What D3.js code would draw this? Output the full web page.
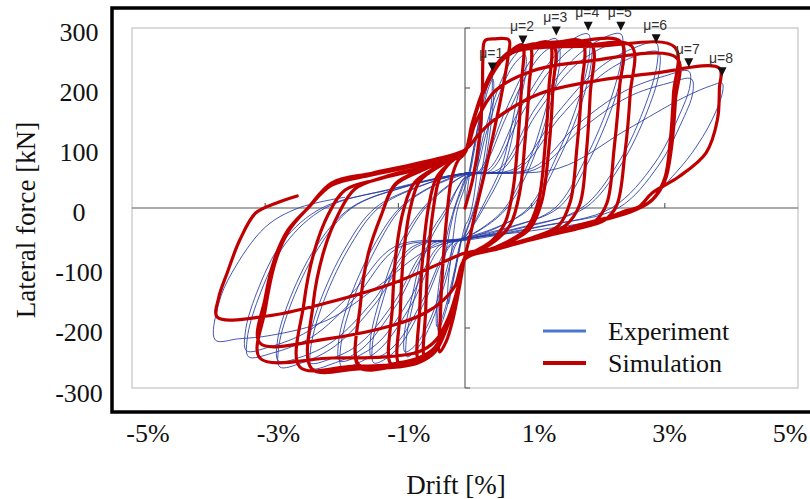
<!DOCTYPE html>
<html>
<head>
<meta charset="utf-8">
<script src="https://cdn.jsdelivr.net/npm/d3@7/dist/d3.min.js"></script>
<style>
  html, body { margin: 0; padding: 0; background: #fff; }
  svg { display: block; }
</style>
</head>
<body>
<svg id="chart" width="810" height="499"></svg>
<script>
// Axis tick labels
const yTickValues = [300, 200, 100, 0, -100, -200, -300];
const xTickValues = [-5, -3, -1, 1, 3, 5];
const xTickLabels = ["-5%", "-3%", "-1%", "1%", "3%", "5%"];

// Ductility markers on the positive envelope [drift %, force kN]
const ductilityLabels = ["μ=1", "μ=2", "μ=3", "μ=4", "μ=5", "μ=6", "μ=7", "μ=8"];
const ductilityDrift = [0.41, 0.87, 1.37, 1.85, 2.34, 2.87, 3.36, 3.86];
const ductilityForce = [235, 280, 295, 303, 303, 282, 242, 227];

// Simulation: load history [drift %, force kN], one array per cycle
const simCycle1 = [[0,0],[0.12,50],[0.22,120],[0.26,190],[0.27,250],[0.3,279],[0.45,282],[0.66,280],
  [0.65,255],[0.55,190],[0.42,120],[0.3,60],[0.17,0],[0.08,-45],[0,-80],
  [-0.08,-130],[-0.18,-185],[-0.28,-222],[-0.38,-240],
  [-0.37,-180],[-0.33,-90],[-0.27,-10],[-0.2,50],[-0.1,80],[0,92]];
const simCycle2 = [[0.1,135],[0.25,185],[0.45,230],[0.65,258],[0.86,272],
  [0.85,210],[0.8,120],[0.72,30],[0.6,-25],[0.4,-55],[0.15,-72],[0,-82],
  [-0.1,-130],[-0.25,-185],[-0.42,-230],[-0.6,-250],
  [-0.59,-170],[-0.55,-80],[-0.48,-5],[-0.38,50],[-0.2,78],[0,92]];
const simCycle3 = [[0.1,138],[0.25,188],[0.45,232],[0.7,260],[0.97,270],
  [0.96,200],[0.9,110],[0.82,25],[0.68,-28],[0.45,-55],[0.2,-72],[0,-85],
  [-0.1,-135],[-0.25,-190],[-0.45,-235],[-0.69,-255],
  [-0.68,-170],[-0.63,-75],[-0.55,0],[-0.43,50],[-0.2,78],[0,94]];
const simCycle4 = [[0.1,138],[0.25,190],[0.45,235],[0.7,262],[1.0,272],[1.27,275],
  [1.26,200],[1.2,100],[1.1,10],[0.92,-35],[0.6,-58],[0.3,-72],[0,-85],
  [-0.1,-135],[-0.25,-192],[-0.45,-238],[-0.7,-255],[-0.98,-262],
  [-0.97,-170],[-0.92,-75],[-0.82,0],[-0.68,45],[-0.35,72],[0,94]];
const simCycle5 = [[0.1,135],[0.25,188],[0.45,232],[0.7,258],[1.0,268],[1.33,270],
  [1.32,200],[1.26,100],[1.15,10],[0.97,-35],[0.65,-58],[0.3,-72],[0,-85],
  [-0.1,-133],[-0.25,-190],[-0.45,-235],[-0.7,-252],[-1.1,-262],
  [-1.09,-165],[-1.03,-70],[-0.92,-2],[-0.76,42],[-0.4,70],[0,94]];
const simCycle6 = [[0.1,138],[0.25,190],[0.45,236],[0.7,262],[1.0,272],[1.4,277],[1.76,277],
  [1.75,200],[1.68,100],[1.58,10],[1.4,-30],[1.0,-50],[0.5,-68],[0,-85],
  [-0.1,-135],[-0.25,-193],[-0.45,-238],[-0.7,-256],[-1.0,-263],[-1.59,-265],
  [-1.57,-160],[-1.45,-75],[-1.25,-10],[-1.05,38],[-0.6,65],[0,95]];
const simCycle7 = [[0.1,135],[0.25,186],[0.45,232],[0.7,258],[1.0,268],[1.5,272],[1.9,272],
  [1.88,190],[1.82,90],[1.72,5],[1.5,-30],[1.0,-52],[0.5,-68],[0,-85],
  [-0.1,-132],[-0.25,-188],[-0.45,-232],[-0.7,-250],[-1.0,-258],[-1.59,-262],
  [-1.57,-160],[-1.45,-75],[-1.25,-10],[-1.05,40],[-0.6,66],[0,95]];
const simCycle8 = [[0.1,138],[0.25,190],[0.45,236],[0.7,263],[1.0,273],[1.6,277],[2.34,277],
  [2.32,200],[2.24,100],[2.13,8],[1.95,-22],[1.6,-36],[1.0,-52],[0.4,-70],[0,-85],
  [-0.1,-135],[-0.25,-193],[-0.45,-240],[-0.7,-258],[-1.0,-265],[-1.6,-268],[-2.3,-268],
  [-2.28,-160],[-2.12,-72],[-1.9,-10],[-1.65,32],[-1.2,52],[-0.6,70],[0,95]];
const simCycle9 = [[0.1,135],[0.25,186],[0.45,232],[0.7,258],[1.0,268],[1.7,270],[2.5,270],
  [2.48,190],[2.4,90],[2.28,5],[2.1,-20],[1.7,-34],[1.0,-52],[0.4,-70],[0,-85],
  [-0.1,-132],[-0.25,-188],[-0.45,-232],[-0.7,-252],[-1.0,-260],[-1.7,-264],[-2.48,-265],
  [-2.42,-160],[-2.27,-75],[-2.05,-10],[-1.8,30],[-1.3,48],[-0.6,68],[0,95]];
const simCycle10 = [[0.1,135],[0.25,186],[0.45,232],[0.7,258],[1.0,266],[2.0,270],[3.15,268],
  [3.13,190],[3.08,110],[3.0,50],[2.82,15],[2.5,-6],[2.0,-20],[1.0,-50],[0.4,-70],[0,-85],
  [-0.1,-130],[-0.25,-183],[-0.45,-222],[-0.7,-240],[-1.2,-248],[-2.0,-250],[-3.08,-250],
  [-3.0,-170],[-2.84,-87],[-2.64,-37],[-2.34,2],[-2.0,38],[-1.4,55],[-0.7,72],[0,97]];
const simCycle11 = [[0.15,140],[0.45,195],[1.0,228],[1.8,244],[3.18,250],
  [3.16,180],[3.1,100],[3.0,45],[2.8,12],[2.45,-8],[2.0,-22],[1.0,-52],[0.4,-70],[0,-85],
  [-0.15,-130],[-0.32,-153],[-0.6,-175],[-1.07,-195],[-2.07,-218],[-3.08,-225],
  [-3.0,-150],[-2.86,-85],[-2.66,-37],[-2.36,0],[-2.0,42],[-1.4,58],[-0.7,75],[0,97]];
const simCycle12 = [[0.2,122],[0.44,147],[1.11,190],[1.86,210],[2.8,224],[3.82,233],
  [3.82,200],[3.79,147],[3.62,92],[3.21,52],[2.81,25],[2.61,2],[2.4,-5],[2.0,-23],[1.0,-53],[0.4,-68],[0,-75],
  [-0.12,-80],[-1.07,-125],[-2.07,-158],[-2.97,-180],[-3.72,-182],
  [-3.7,-150],[-3.57,-108],[-3.38,-53],[-3.14,-8],[-2.84,8],[-2.52,20]];

// Experiment: load history [drift %, force kN], one array per cycle
const expCycle1 = [[0,0],[0.1,80],[0.2,140],[0.25,165],[0.26,150],[0.2,80],[0.12,10],[0.05,-20],[0,-30],
  [-0.1,-80],[-0.2,-135],[-0.25,-160],[-0.26,-140],[-0.2,-70],[-0.12,-5],[-0.05,20],[0,35]];
const expCycle2 = [[0.05,55],[0.15,110],[0.27,175],[0.36,212],[0.4,225],[0.41,200],[0.36,140],[0.25,60],[0.15,5],[0.05,-28],[0,-42],
  [-0.05,-52],[-0.15,-105],[-0.27,-165],[-0.36,-195],[-0.4,-205],[-0.41,-180],[-0.36,-125],[-0.25,-50],[-0.15,0],[-0.05,30],[0,45]];
const expCycle3 = [[0.06,55],[0.16,108],[0.28,170],[0.37,205],[0.42,215],[0.43,190],[0.38,130],[0.27,55],[0.16,3],[0.06,-28],[0,-45],
  [-0.06,-55],[-0.16,-105],[-0.28,-160],[-0.37,-190],[-0.42,-198],[-0.43,-172],[-0.38,-118],[-0.27,-45],[-0.16,0],[-0.06,32],[0,48]];
const expCycle4 = [[0.12,58],[0.3,130],[0.5,200],[0.72,250],[0.87,265],
  [0.88,235],[0.76,170],[0.55,70],[0.25,0],[0.1,-32],[0,-48],
  [-0.12,-58],[-0.3,-125],[-0.5,-190],[-0.72,-235],[-0.87,-248],
  [-0.88,-218],[-0.76,-150],[-0.55,-60],[-0.25,0],[-0.1,35],[0,50]];
const expCycle5 = [[0.14,58],[0.32,125],[0.52,192],[0.74,240],[0.9,255],
  [0.91,225],[0.79,160],[0.58,65],[0.28,0],[0.12,-30],[0,-48],
  [-0.14,-58],[-0.32,-120],[-0.52,-185],[-0.74,-228],[-0.9,-240],
  [-0.91,-210],[-0.79,-145],[-0.58,-55],[-0.28,0],[-0.12,32],[0,52]];
const expCycle6 = [[0.2,60],[0.6,160],[0.95,240],[1.2,275],[1.37,282],
  [1.39,250],[1.25,180],[0.95,75],[0.6,0],[0.3,-30],[0,-50],
  [-0.2,-60],[-0.6,-155],[-0.95,-225],[-1.2,-252],[-1.37,-258],
  [-1.39,-228],[-1.25,-160],[-0.95,-65],[-0.6,0],[-0.3,32],[0,55]];
const expCycle7 = [[0.22,60],[0.62,152],[0.97,230],[1.22,263],[1.4,270],
  [1.42,240],[1.28,172],[0.98,70],[0.63,0],[0.32,-30],[0,-50],
  [-0.22,-60],[-0.62,-150],[-0.97,-218],[-1.22,-244],[-1.4,-250],
  [-1.42,-220],[-1.28,-152],[-0.98,-60],[-0.63,0],[-0.32,32],[0,55]];
const expCycle8 = [[0.35,64],[0.8,160],[1.25,240],[1.6,280],[1.85,290],
  [1.87,258],[1.72,185],[1.35,80],[0.95,0],[0.5,-32],[0,-52],
  [-0.35,-64],[-0.8,-160],[-1.25,-232],[-1.6,-258],[-1.85,-265],
  [-1.87,-235],[-1.72,-165],[-1.35,-70],[-0.95,0],[-0.5,35],[0,56]];
const expCycle9 = [[0.38,62],[0.83,153],[1.28,230],[1.63,268],[1.88,278],
  [1.9,247],[1.75,175],[1.38,75],[0.98,0],[0.52,-30],[0,-50],
  [-0.38,-62],[-0.83,-152],[-1.28,-222],[-1.63,-248],[-1.88,-255],
  [-1.9,-225],[-1.75,-157],[-1.38,-65],[-0.98,0],[-0.52,35],[0,58]];
const expCycle10 = [[0.5,64],[1.05,165],[1.6,245],[2.05,282],[2.34,290],
  [2.36,258],[2.2,185],[1.8,80],[1.35,0],[0.7,-32],[0,-52],
  [-0.5,-64],[-1.05,-165],[-1.55,-235],[-2.0,-260],[-2.3,-267],
  [-2.32,-237],[-2.16,-167],[-1.76,-70],[-1.3,0],[-0.7,35],[0,58]];
const expCycle11 = [[0.53,62],[1.08,158],[1.63,235],[2.08,268],[2.37,276],
  [2.39,245],[2.23,175],[1.83,72],[1.4,0],[0.72,-30],[0,-50],
  [-0.53,-62],[-1.08,-160],[-1.58,-226],[-2.03,-252],[-2.33,-258],
  [-2.35,-228],[-2.19,-160],[-1.79,-65],[-1.35,0],[-0.72,35],[0,58]];
const expCycle12 = [[0.75,66],[1.4,160],[2.0,232],[2.5,265],[2.87,275],
  [2.89,245],[2.72,175],[2.3,75],[1.75,0],[0.9,-32],[0,-52],
  [-0.75,-66],[-1.35,-160],[-1.95,-230],[-2.45,-258],[-2.78,-265],
  [-2.8,-235],[-2.64,-168],[-2.22,-70],[-1.7,0],[-0.9,35],[0,58]];
const expCycle13 = [[0.78,64],[1.43,152],[2.03,220],[2.53,252],[2.9,260],
  [2.92,230],[2.75,165],[2.33,70],[1.8,0],[0.92,-30],[0,-52],
  [-0.78,-64],[-1.38,-155],[-1.98,-222],[-2.48,-249],[-2.8,-255],
  [-2.82,-225],[-2.66,-160],[-2.24,-65],[-1.72,0],[-0.92,35],[0,58]];
const expCycle14 = [[1.0,66],[1.7,140],[2.4,195],[3.0,220],[3.36,228],
  [3.38,205],[3.2,150],[2.85,75],[2.2,0],[1.1,-32],[0,-54],
  [-1.0,-66],[-1.65,-150],[-2.3,-215],[-2.9,-242],[-3.25,-248],
  [-3.27,-218],[-3.1,-150],[-2.7,-60],[-2.1,0],[-1.1,32],[0,58]];
const expCycle15 = [[1.05,64],[1.75,132],[2.45,185],[3.05,208],[3.4,215],
  [3.42,192],[3.24,140],[2.9,70],[2.3,0],[1.15,-30],[0,-52],
  [-1.05,-64],[-1.7,-142],[-2.35,-205],[-2.95,-232],[-3.28,-238],
  [-3.3,-208],[-3.13,-142],[-2.73,-55],[-2.15,0],[-1.15,30],[0,56]];
const expCycle16 = [[1.4,66],[2.42,130],[3.3,185],[3.7,204],[3.86,208],
  [3.87,195],[3.71,147],[3.41,92],[3.11,52],[2.7,5],[2.0,-20],[1.0,-38],[0,-52],
  [-0.57,-70],[-1.3,-130],[-2.07,-187],[-2.9,-212],[-3.4,-218],[-3.75,-220],
  [-3.7,-160],[-3.5,-108],[-3.0,-32],[-2.5,0],[-1.8,18]];

const simulation = [simCycle1, simCycle2, simCycle3, simCycle4, simCycle5, simCycle6,
  simCycle7, simCycle8, simCycle9, simCycle10, simCycle11, simCycle12].flat();
const experiment = [expCycle1, expCycle2, expCycle3, expCycle4, expCycle5, expCycle6, expCycle7, expCycle8,
  expCycle9, expCycle10, expCycle11, expCycle12, expCycle13, expCycle14, expCycle15, expCycle16].flat();

const svg = d3.select("#chart");
const serif = "'Liberation Serif', 'Times New Roman', serif";

// Plot area (drift ±5 %, force ±300 kN)
const plot = { left: 132, right: 798, top: 28, bottom: 388 };
const x = d3.scaleLinear().domain([-5, 5]).range([plot.left, plot.right]);
const y = d3.scaleLinear().domain([-300, 300]).range([plot.bottom, plot.top]);

// Outer tick label placement
const xLabelScale = d3.scaleLinear().domain([-5, 5]).range([148, 800]);
const yLabelScale = d3.scaleLinear().domain([-300, 300]).range([393, 32]);

// Light plot border
svg.append("rect")
  .attr("x", plot.left).attr("y", plot.top)
  .attr("width", plot.right - plot.left).attr("height", plot.bottom - plot.top)
  .attr("fill", "#fff").attr("stroke", "#c4c4c4").attr("stroke-width", 1.2);

// Zero axes with small ticks
const axisG = svg.append("g").attr("stroke", "#555").attr("stroke-width", 1.1);
axisG.append("line").attr("x1", plot.left).attr("x2", plot.right).attr("y1", y(0)).attr("y2", y(0));
axisG.append("line").attr("x1", x(0)).attr("x2", x(0)).attr("y1", plot.top).attr("y2", plot.bottom);
[-3, -1, 1, 3].forEach(v => {
  axisG.append("line").attr("x1", x(v)).attr("x2", x(v)).attr("y1", y(0)).attr("y2", y(0) - 5);
});
[-300, -200, 200, 300].forEach(v => {
  axisG.append("line").attr("x1", x(0)).attr("x2", x(0) + 5).attr("y1", y(v)).attr("y2", y(v));
});

const line = d3.line()
  .x(d => x(d[0]))
  .y(d => y(d[1]))
  .curve(d3.curveCatmullRom.alpha(0.5));

// Experiment loops
svg.append("path")
  .datum(experiment)
  .attr("d", line)
  .attr("fill", "none")
  .attr("stroke", "#2539a3")
  .attr("stroke-width", 1)
  .attr("stroke-opacity", 0.85)
  .attr("stroke-linejoin", "round");

// Simulation loops
svg.append("path")
  .datum(simulation)
  .attr("d", line)
  .attr("fill", "none")
  .attr("stroke", "#c00000")
  .attr("stroke-width", 3.2)
  .attr("stroke-linejoin", "round")
  .attr("stroke-linecap", "round");

// Ductility markers
const marks = svg.append("g");
ductilityLabels.forEach((lab, i) => {
  const cx = x(ductilityDrift[i]);
  const cy = y(ductilityForce[i]);
  marks.append("path")
    .attr("d", `M${cx - 4.5},${cy - 4.5}L${cx + 4.5},${cy - 4.5}L${cx},${cy + 4.5}Z`)
    .attr("fill", "#111");
  marks.append("text")
    .attr("x", cx - 1).attr("y", cy - 9)
    .attr("text-anchor", "middle")
    .attr("font-family", "'Liberation Sans', Arial, sans-serif")
    .attr("font-size", 14)
    .attr("fill", "#333")
    .text(lab);
});

// Legend
const legend = svg.append("g");
legend.append("line").attr("x1", 543).attr("x2", 586).attr("y1", 331).attr("y2", 331)
  .attr("stroke", "#4a78cc").attr("stroke-width", 3);
legend.append("line").attr("x1", 543).attr("x2", 586).attr("y1", 363).attr("y2", 363)
  .attr("stroke", "#c00000").attr("stroke-width", 4);
legend.append("text").attr("x", 608).attr("y", 340)
  .attr("font-family", serif).attr("font-size", 26).attr("fill", "#111").text("Experiment");
legend.append("text").attr("x", 608).attr("y", 372)
  .attr("font-family", serif).attr("font-size", 26).attr("fill", "#111").text("Simulation");

// Heavy outer frame
svg.append("rect")
  .attr("x", 112).attr("y", 8)
  .attr("width", 740).attr("height", 404)
  .attr("fill", "none").attr("stroke", "#000").attr("stroke-width", 3.5);

// Tick labels
svg.append("g").selectAll("text")
  .data(yTickValues).join("text")
  .attr("x", 79).attr("y", d => yLabelScale(d))
  .attr("text-anchor", "middle")
  .attr("dominant-baseline", "central")
  .attr("font-family", serif).attr("font-size", 26).attr("fill", "#111")
  .text(d => d);

svg.append("g").selectAll("text")
  .data(xTickValues).join("text")
  .attr("x", d => Math.min(xLabelScale(d), 790)).attr("y", 442)
  .attr("text-anchor", "middle")
  .attr("font-family", serif).attr("font-size", 26).attr("fill", "#111")
  .text((d, i) => xTickLabels[i]);

// Axis titles
svg.append("text")
  .attr("x", 456).attr("y", 494)
  .attr("text-anchor", "middle")
  .attr("font-family", serif).attr("font-size", 27).attr("fill", "#111")
  .text("Drift [%]");

svg.append("text")
  .attr("transform", "translate(35,220) rotate(-90)")
  .attr("text-anchor", "middle")
  .attr("font-family", serif).attr("font-size", 27).attr("fill", "#111")
  .text("Lateral force [kN]");
</script>
</body>
</html>
